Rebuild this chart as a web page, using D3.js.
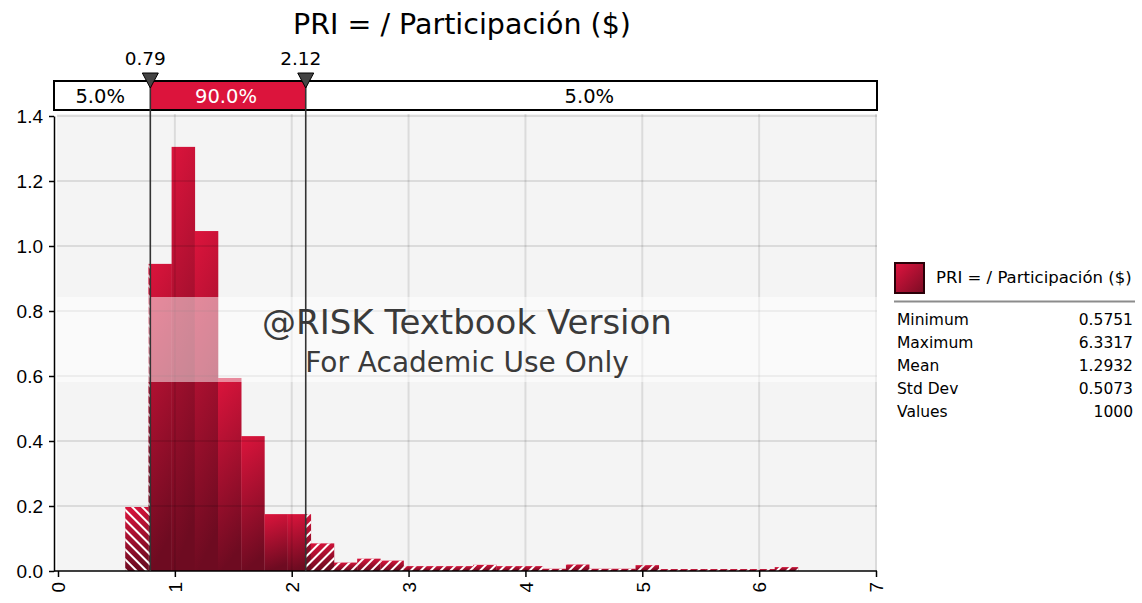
<!DOCTYPE html>
<html>
<head>
<meta charset="utf-8">
<script src="https://cdn.jsdelivr.net/npm/d3@7"></script>
<style>
  body { margin: 0; background: #fff; }
  svg { font-family: "DejaVu Sans", Verdana, sans-serif; }
</style>
</head>
<body>
<div id="chart"></div>
<script>
// histogram densities (29 equal bins from min to max)
const binMin = 0.5751;
const binMax = 6.3317;
const densities = [0.197, 0.945, 1.305, 1.046, 0.594, 0.415, 0.175, 0.175,
  0.085, 0.026, 0.038, 0.032, 0.015, 0.015, 0.015, 0.019, 0.015, 0.015,
  0.007, 0.02, 0.007, 0.007, 0.018, 0.006, 0.006, 0.006, 0.006, 0.006, 0.012];
const xTicks = [0, 1, 2, 3, 4, 5, 6, 7];
const yTicks = [0, 0.2, 0.4, 0.6, 0.8, 1.0, 1.2, 1.4];
const markers = [0.79, 2.12];
const bandLabels = ["5.0%", "90.0%", "5.0%"];
const title = "PRI = / Participación ($)";
const statNames = ["Minimum", "Maximum", "Mean", "Std Dev", "Values"];
const statValues = ["0.5751", "6.3317", "1.2932", "0.5073", "1000"];

const W = 1142, H = 603;
const binW = (binMax - binMin) / densities.length;
const bins = densities.map((d, i) => ({x0: binMin + i * binW, x1: binMin + (i + 1) * binW, d: d}));

const x = d3.scaleLinear().domain([0, 7]).range([58, 876]);
const y = d3.scaleLinear().domain([0, 1.4]).range([571, 116]);

const svg = d3.select('#chart').append('svg')
  .attr('width', W).attr('height', H);

const defs = svg.append('defs');
const grad = defs.append('linearGradient').attr('id', 'barGrad')
  .attr('x1', 0).attr('y1', 0).attr('x2', 0.15).attr('y2', 1);
grad.append('stop').attr('offset', '0%').attr('stop-color', '#dc143c');
grad.append('stop').attr('offset', '100%').attr('stop-color', '#6e0b21');

const swGrad = defs.append('linearGradient').attr('id', 'swatchGrad')
  .attr('x1', 0).attr('y1', 0).attr('x2', 1).attr('y2', 1);
swGrad.append('stop').attr('offset', '0%').attr('stop-color', '#e0143f');
swGrad.append('stop').attr('offset', '100%').attr('stop-color', '#7a0c24');

function hatch(id, angle) {
  const p = defs.append('pattern').attr('id', id)
    .attr('patternUnits', 'userSpaceOnUse')
    .attr('width', 7).attr('height', 7)
    .attr('patternTransform', `rotate(${angle})`);
  p.append('rect').attr('x', 0).attr('y', 0).attr('width', 2).attr('height', 7)
    .attr('fill', '#fff');
}
hatch('hatchL', -45);
hatch('hatchR', 45);

defs.append('clipPath').attr('id', 'clipL').append('rect')
  .attr('x', 0).attr('y', 0).attr('width', x(markers[0])).attr('height', H);
defs.append('clipPath').attr('id', 'clipR').append('rect')
  .attr('x', x(markers[1])).attr('y', 0).attr('width', W).attr('height', H);

// plot background
svg.append('rect')
  .attr('x', 57).attr('y', y(1.4) - 2)
  .attr('width', 877 - 57).attr('height', y(0) - y(1.4) + 2)
  .attr('fill', '#f4f4f4');

// bars
svg.append('g').selectAll('rect').data(bins).join('rect')
  .attr('x', d => x(d.x0))
  .attr('y', d => y(d.d))
  .attr('width', d => x(d.x1) - x(d.x0) + 0.3)
  .attr('height', d => y(0) - y(d.d))
  .attr('fill', 'url(#barGrad)');

// hatched tails
['L', 'R'].forEach(s => {
  svg.append('g').attr('clip-path', `url(#clip${s})`)
    .selectAll('rect').data(bins).join('rect')
    .attr('x', d => x(d.x0))
    .attr('y', d => y(d.d))
    .attr('width', d => x(d.x1) - x(d.x0) + 0.3)
    .attr('height', d => y(0) - y(d.d))
    .attr('fill', `url(#hatch${s})`);
});

// grid on top, see-through
const grid = svg.append('g').attr('stroke', 'rgba(0,0,0,0.1)').attr('stroke-width', 2);
grid.selectAll('.gy').data(yTicks.slice(1)).join('line')
  .attr('x1', 57).attr('x2', 877)
  .attr('y1', d => y(d)).attr('y2', d => y(d));
grid.selectAll('.gx').data(xTicks.slice(1)).join('line')
  .attr('y1', y(1.4) - 2).attr('y2', y(0))
  .attr('x1', d => x(d)).attr('x2', d => x(d));

// watermark
svg.append('rect')
  .attr('x', 57).attr('y', 297).attr('width', 820).attr('height', 85)
  .attr('fill', 'rgba(255,255,255,0.5)');
svg.append('text')
  .attr('x', 467).attr('y', 334)
  .attr('text-anchor', 'middle')
  .attr('font-size', 34).attr('fill', '#3a3a3a')
  .text('@RISK Textbook Version');
svg.append('text')
  .attr('x', 467).attr('y', 372)
  .attr('text-anchor', 'middle')
  .attr('font-size', 28).attr('fill', '#3a3a3a')
  .text('For Academic Use Only');

// axes
const xAxis = svg.append('g')
  .attr('transform', `translate(0, ${y(0)})`)
  .call(d3.axisBottom(x).tickValues(xTicks).tickSize(6).tickSizeOuter(0).tickFormat(d3.format('d')));
xAxis.select('.domain').remove();
xAxis.selectAll('line').attr('stroke', '#000').attr('stroke-width', 1.5);
xAxis.selectAll('text')
  .attr('font-size', 19).attr('fill', '#000')
  .attr('text-anchor', 'end')
  .attr('x', 0).attr('y', 0).attr('dy', '0.36em')
  .attr('transform', 'translate(0, 11) rotate(-90)');
svg.append('line')
  .attr('x1', 54).attr('x2', 877).attr('y1', y(0)).attr('y2', y(0))
  .attr('stroke', '#000').attr('stroke-width', 1.5);

const yAxis = svg.append('g')
  .attr('transform', 'translate(54, 0)')
  .call(d3.axisLeft(y).tickValues(yTicks).tickSize(5).tickSizeOuter(0).tickFormat(d3.format('.1f')));
yAxis.select('.domain').attr('stroke', '#000').attr('stroke-width', 1.5);
yAxis.selectAll('line').attr('stroke', '#000').attr('stroke-width', 1.5);
yAxis.selectAll('text').attr('font-size', 19).attr('fill', '#000').attr('x', -11);

// percentile band on top
const bandTop = 81, bandH = 29;
const edges = [54, x(markers[0]), x(markers[1]), 877];
const segs = bandLabels.map((t, i) => ({t: t, a: edges[i], b: edges[i + 1], mid: i === 1}));
svg.append('g').selectAll('rect').data(segs).join('rect')
  .attr('x', d => d.a).attr('y', bandTop)
  .attr('width', d => d.b - d.a).attr('height', bandH)
  .attr('fill', d => d.mid ? '#dc143c' : '#fff');
svg.append('rect')
  .attr('x', 54).attr('y', bandTop).attr('width', 877 - 54).attr('height', bandH)
  .attr('fill', 'none').attr('stroke', '#000').attr('stroke-width', 2);
svg.append('g').selectAll('text').data(segs).join('text')
  .attr('x', d => (d.a + d.b) / 2 - 2).attr('y', bandTop + 22)
  .attr('text-anchor', 'middle').attr('font-size', 19.5)
  .attr('fill', d => d.mid ? '#fff' : '#000')
  .text(d => d.t);

// marker lines + triangles + labels
const mk = svg.append('g');
mk.selectAll('line').data(markers).join('line')
  .attr('x1', d => x(d)).attr('x2', d => x(d))
  .attr('y1', bandTop).attr('y2', y(0))
  .attr('stroke', '#333').attr('stroke-width', 1.6);
mk.selectAll('path').data(markers).join('path')
  .attr('d', d => `M${x(d) - 8},73 L${x(d) + 8},73 L${x(d)},88 Z`)
  .attr('fill', '#444').attr('stroke', '#000').attr('stroke-width', 1);
mk.selectAll('text').data(markers).join('text')
  .attr('x', d => x(d) - 5).attr('y', 65)
  .attr('text-anchor', 'middle').attr('font-size', 18.5)
  .text(d => d3.format('.2f')(d));

// title
svg.append('text')
  .attr('x', 462).attr('y', 34)
  .attr('text-anchor', 'middle').attr('font-size', 28.5)
  .text(title);

// legend + stats
const lg = svg.append('g');
lg.append('rect')
  .attr('x', 895).attr('y', 263).attr('width', 29).attr('height', 30)
  .attr('fill', 'url(#swatchGrad)').attr('stroke', '#2a0008').attr('stroke-width', 2);
lg.append('text')
  .attr('x', 936).attr('y', 283).attr('font-size', 16.5)
  .text(title);
lg.append('line')
  .attr('x1', 894).attr('x2', 1135).attr('y1', 301.5).attr('y2', 301.5)
  .attr('stroke', '#8c8c8c').attr('stroke-width', 2);
lg.selectAll('.sn').data(statNames).join('text')
  .attr('x', 897).attr('y', (d, i) => 325 + i * 23)
  .attr('font-size', 15.5).text(d => d);
lg.selectAll('.sv').data(statValues).join('text')
  .attr('x', 1133).attr('y', (d, i) => 325 + i * 23)
  .attr('text-anchor', 'end').attr('font-size', 15.5).text(d => d);
</script>
</body>
</html>
